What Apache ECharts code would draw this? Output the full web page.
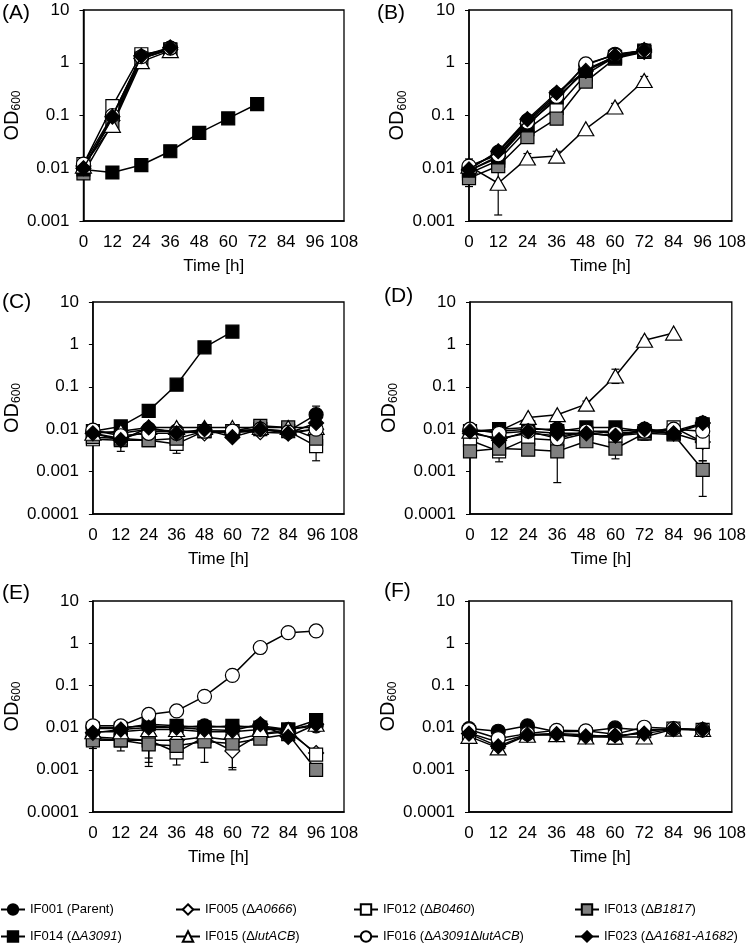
<!DOCTYPE html>
<html>
<head>
<meta charset="utf-8">
<script src="https://cdn.jsdelivr.net/npm/echarts@6/dist/echarts.min.js"></script>
<style>
html, body { margin: 0; padding: 0; background: #fff; }
#main { width: 749px; height: 949px; }
</style>
</head>
<body>
<div id="main"></div>
<script>
// sampling times [h]
var hours = [0, 12, 24, 36, 48, 60, 72, 84, 96];

// strain order used by every panel array below
var strains = ['IF001 (Parent)', 'IF005 (ΔA0666)', 'IF012 (ΔB0460)', 'IF013 (ΔB1817)',
               'IF014 (ΔA3091)', 'IF015 (ΔlutACB)', 'IF016 (ΔA3091ΔlutACB)', 'IF023 (ΔA1681-A1682)'];

var yTicksAB = [0.001, 0.01, 0.1, 1, 10];
var yTicksCF = [0.0001, 0.001, 0.01, 0.1, 1, 10];
var xTicks = [0, 12, 24, 36, 48, 60, 72, 84, 96, 108];

// OD600, one row per strain (null = strain not shown in that panel)
var odA = [
  [0.010, 0.090, 1.30, 1.90],
  [0.011, 0.080, 1.20, 1.80],
  [0.012, 0.150, 1.45, 1.75],
  [0.008, 0.070, 1.20, 1.80],
  [0.0095, 0.0083, 0.0115, 0.021, 0.047, 0.088, 0.165],
  [0.011, 0.065, 1.05, 1.70],
  [0.012, 0.100, 1.30, 1.90],
  [0.010, 0.095, 1.35, 1.95]
];
var odB = [
  [0.010, 0.020, 0.080, 0.25, 0.90, 1.45, 1.70],
  [0.009, 0.017, 0.070, 0.20, 0.75, 1.30, 1.60],
  [0.008, 0.014, 0.055, 0.14, 0.60, 1.30, 1.60],
  [0.0065, 0.011, 0.039, 0.087, 0.44, 1.20, 1.60],
  [0.009, 0.016, 0.065, 0.22, 0.70, 1.25, 1.70],
  [0.011, 0.0052, 0.0156, 0.017, 0.056, 0.145, 0.46],
  [0.011, 0.018, 0.075, 0.23, 0.95, 1.40, 1.70],
  [0.0095, 0.021, 0.085, 0.27, 0.70, 1.35, 1.75]
];
var odC = [
  [0.009, 0.008, 0.010, 0.009, 0.009, 0.008, 0.010, 0.009, 0.022],
  [0.008, 0.006, 0.009, 0.009, 0.008, 0.009, 0.0085, 0.008, 0.010],
  [0.0058, 0.0055, 0.0055, 0.0045, 0.009, 0.009, 0.010, 0.009, 0.004],
  [0.0065, 0.006, 0.0055, 0.006, 0.009, 0.009, 0.012, 0.011, 0.006],
  [0.009, 0.0116, 0.027, 0.112, 0.85, 2.0],
  [0.008, 0.009, 0.011, 0.011, 0.011, 0.011, 0.011, 0.011, 0.011],
  [0.0095, 0.007, 0.008, 0.008, 0.009, 0.009, 0.010, 0.0085, 0.010],
  [0.008, 0.0055, 0.011, 0.008, 0.010, 0.0065, 0.010, 0.008, 0.014]
];
var odD = [
  [0.0095, 0.009, 0.010, 0.010, 0.009, 0.009, 0.010, 0.009, 0.014],
  [0.008, 0.006, 0.008, 0.007, 0.008, 0.007, 0.009, 0.008, 0.005],
  [0.0055, 0.003, 0.006, 0.0055, 0.008, 0.007, 0.008, 0.011, 0.005],
  [0.003, 0.0035, 0.0033, 0.003, 0.0052, 0.0035, 0.008, 0.0075, 0.0011],
  [0.009, 0.010, 0.011, 0.009, 0.011, 0.011, 0.009, 0.008, 0.013],
  [0.009, 0.009, 0.019, 0.022, 0.039, 0.18, 1.25, 1.85],
  [0.010, 0.008, 0.009, 0.006, 0.009, 0.008, 0.009, 0.010, 0.009],
  [0.009, 0.0055, 0.009, 0.008, 0.008, 0.007, 0.010, 0.008, 0.014]
];
var odE = [
  [0.010, 0.010, 0.011, 0.010, 0.011, 0.010, 0.011, 0.009, 0.011],
  [0.006, 0.0055, 0.005, 0.005, 0.006, 0.0028, 0.007, 0.008, 0.0025],
  [0.0055, 0.005, 0.005, 0.0026, 0.006, 0.005, 0.007, 0.009, 0.0023],
  [0.005, 0.005, 0.004, 0.0037, 0.0047, 0.0042, 0.0055, 0.007, 0.001],
  [0.0095, 0.0095, 0.012, 0.011, 0.010, 0.011, 0.010, 0.009, 0.015],
  [0.008, 0.008, 0.009, 0.009, 0.008, 0.008, 0.009, 0.009, 0.012],
  [0.011, 0.011, 0.0205, 0.0248, 0.055, 0.173, 0.79, 1.78, 1.95],
  [0.0075, 0.009, 0.010, 0.010, 0.009, 0.0085, 0.012, 0.006, 0.012]
];
var odF = [
  [0.0095, 0.0082, 0.011, 0.008, 0.0082, 0.0098, 0.0088, 0.0092, 0.0088],
  null,
  [0.0075, 0.0045, 0.0068, 0.0072, 0.0068, 0.0058, 0.0082, 0.0095, 0.0088],
  null,
  null,
  [0.0062, 0.0033, 0.0066, 0.0068, 0.006, 0.006, 0.006, 0.0092, 0.009],
  [0.009, 0.0055, 0.0072, 0.0086, 0.0084, 0.007, 0.0102, 0.0095, 0.0088],
  [0.0072, 0.0036, 0.0068, 0.007, 0.0062, 0.0065, 0.0072, 0.0092, 0.009]
];

// error bars: [strain index, hour, low, high]
var errA = [];
var errB = [[3, 0, 0.0045, 0.0085], [5, 0, 0.0085, 0.015], [5, 12, 0.0013, 0.0087],
            [5, 24, 0.013, 0.019], [5, 36, 0.015, 0.021], [5, 60, 0.13, 0.17], [5, 72, 0.40, 0.55]];
var errC = [[0, 96, 0.011, 0.035], [2, 36, 0.0027, 0.0063], [2, 96, 0.0018, 0.0062],
            [7, 12, 0.003, 0.008], [3, 24, 0.0045, 0.0065], [2, 0, 0.0045, 0.007]];
var errD = [[3, 0, 0.0022, 0.004], [2, 12, 0.0017, 0.0043], [3, 36, 0.00055, 0.0055],
            [3, 60, 0.002, 0.005], [3, 72, 0.0055, 0.011], [3, 96, 0.00026, 0.0018],
            [2, 96, 0.0018, 0.0089], [5, 60, 0.12, 0.26], [5, 72, 1.0, 1.4], [5, 48, 0.032, 0.046]];
var errE = [[3, 0, 0.0032, 0.007], [3, 12, 0.0028, 0.007], [3, 24, 0.0012, 0.0068],
            [2, 24, 0.0015, 0.0065], [1, 24, 0.0019, 0.006], [2, 36, 0.0013, 0.004],
            [3, 48, 0.0015, 0.008], [1, 60, 0.001, 0.0046], [3, 60, 0.00113, 0.006],
            [5, 84, 0.005, 0.011], [2, 96, 0.0017, 0.0032]];
var errF = [[2, 60, 0.0045, 0.007]];

var FONT = '"Liberation Sans", Arial, Helvetica, sans-serif';

var looks = [
  { symbol: 'circle',   size: 14,       fill: '#000' },
  { symbol: 'diamond',  size: [15, 15], fill: '#fff' },
  { symbol: 'rect',     size: 13,       fill: '#fff' },
  { symbol: 'rect',     size: 13,       fill: '#808080' },
  { symbol: 'rect',     size: 13,       fill: '#000' },
  { symbol: 'triangle', size: [16, 14], fill: '#fff' },
  { symbol: 'circle',   size: 14,       fill: '#fff' },
  { symbol: 'diamond',  size: [15, 15], fill: '#000' }
];

var panels = [
  { label: '(A)', od: odA, err: errA, ticks: yTicksAB, grid: { left: 79,  top: 10,  width: 265, height: 211 }, lab: { left: 2,   top: 3 } },
  { label: '(B)', od: odB, err: errB, ticks: yTicksAB, grid: { left: 469, top: 10,  width: 266, height: 211 }, lab: { left: 377, top: 3 } },
  { label: '(C)', od: odC, err: errC, ticks: yTicksCF, grid: { left: 79,  top: 302, width: 265, height: 212 }, lab: { left: 2,   top: 292 } },
  { label: '(D)', od: odD, err: errD, ticks: yTicksCF, grid: { left: 470, top: 302, width: 265, height: 212 }, lab: { left: 384, top: 286 } },
  { label: '(E)', od: odE, err: errE, ticks: yTicksCF, grid: { left: 79,  top: 601, width: 265, height: 211 }, lab: { left: 2,   top: 583 } },
  { label: '(F)', od: odF, err: errF, ticks: yTicksCF, grid: { left: 469, top: 601, width: 265, height: 211 }, lab: { left: 384, top: 581 } }
];

var grids = [], xAxes = [], yAxes = [], series = [], titles = [];

panels.forEach(function (p, pi) {
  grids.push(Object.assign({ show: true, borderColor: '#000', borderWidth: 1.3, backgroundColor: 'transparent' }, p.grid));
  titles.push({ text: p.label, left: p.lab.left, top: p.lab.top, padding: 0,
                textStyle: { fontFamily: FONT, fontSize: 21, fontWeight: 'normal', color: '#000' } });
  xAxes.push({
    type: 'value', gridIndex: pi, min: xTicks[0], max: xTicks[xTicks.length - 1], interval: 12,
    name: 'Time [h]', nameLocation: 'middle', nameGap: 37,
    nameTextStyle: { fontFamily: FONT, fontSize: 17, color: '#000' },
    axisLine: { lineStyle: { color: '#000', width: 1.5 } },
    axisTick: { show: false },
    splitLine: { show: false },
    axisLabel: { fontFamily: FONT, fontSize: 17, color: '#000', margin: 13 }
  });
  yAxes.push({
    type: 'log', logBase: 10, gridIndex: pi, min: p.ticks[0], max: p.ticks[p.ticks.length - 1],
    name: 'OD{s|600}', nameLocation: 'middle', nameGap: 58,
    nameTextStyle: { fontFamily: FONT, fontSize: 20, color: '#000', lineHeight: 22,
      rich: { s: { fontFamily: FONT, fontSize: 12, color: '#000', verticalAlign: 'bottom', lineHeight: 15, padding: [8, 0, 0, 0] } } },
    axisLine: { show: true, lineStyle: { color: '#000', width: 1.5 } },
    axisTick: { show: true, inside: false, length: 4, lineStyle: { color: '#000', width: 1 } },
    minorTick: { show: false },
    splitLine: { show: false },
    axisLabel: { fontFamily: FONT, fontSize: 17, color: '#000', margin: 14,
      formatter: function (v) { return String(+(+v).toPrecision(1)); } }
  });

  // error bars first so markers sit on top
  if (p.err.length) {
    series.push({
      type: 'custom', xAxisIndex: pi, yAxisIndex: pi, silent: true, z: 1,
      data: p.err.map(function (e) { return [e[1], e[2], e[3]]; }),
      encode: { x: 0, y: [1, 2] },
      renderItem: function (params, api) {
        var x = api.value(0);
        var lo = api.coord([x, api.value(1)]);
        var hi = api.coord([x, api.value(2)]);
        var w = 4, st = { stroke: '#000', lineWidth: 1.2 };
        return { type: 'group', children: [
          { type: 'line', shape: { x1: lo[0], y1: lo[1], x2: hi[0], y2: hi[1] }, style: st },
          { type: 'line', shape: { x1: lo[0] - w, y1: lo[1], x2: lo[0] + w, y2: lo[1] }, style: st },
          { type: 'line', shape: { x1: hi[0] - w, y1: hi[1], x2: hi[0] + w, y2: hi[1] }, style: st }
        ] };
      }
    });
  }

  p.od.forEach(function (row, si) {
    if (!row) return;
    var lk = looks[si];
    series.push({
      type: 'line', name: strains[si], xAxisIndex: pi, yAxisIndex: pi, z: 2 + si,
      data: row.map(function (v, i) { return [hours[i], v]; }),
      symbol: lk.symbol, symbolSize: lk.size, showSymbol: true, showAllSymbol: true,
      lineStyle: { color: '#000', width: 1.5 },
      itemStyle: { color: lk.fill, borderColor: '#000', borderWidth: 1.2 },
      emphasis: { disabled: true }
    });
  });
});

function legendText(name) {
  // italic gene names after each Δ
  return name.replace(/Δ([A-Za-z0-9\-]+?)(?=Δ|\))/g, 'Δ{i|$1}');
}

var legendCols = [[0, 4], [1, 5], [2, 6], [3, 7]];
var legendLeft = [0, 175, 353, 574];
var legends = legendCols.map(function (col, ci) {
  return {
    orient: 'vertical', left: legendLeft[ci], top: 903, itemGap: 14, padding: 0,
    itemWidth: 24, itemHeight: 13, selectedMode: false,
    data: col.map(function (i) { return strains[i]; }),
    formatter: legendText,
    textStyle: { fontFamily: FONT, fontSize: 13, color: '#000',
      rich: { i: { fontFamily: FONT, fontSize: 13, color: '#000', fontStyle: 'italic' } } }
  };
});

var chart = echarts.init(document.getElementById('main'), null, { renderer: 'canvas' });
chart.setOption({
  animation: false,
  backgroundColor: '#fff',
  title: titles,
  legend: legends,
  grid: grids,
  xAxis: xAxes,
  yAxis: yAxes,
  series: series
});
</script>
</body>
</html>
